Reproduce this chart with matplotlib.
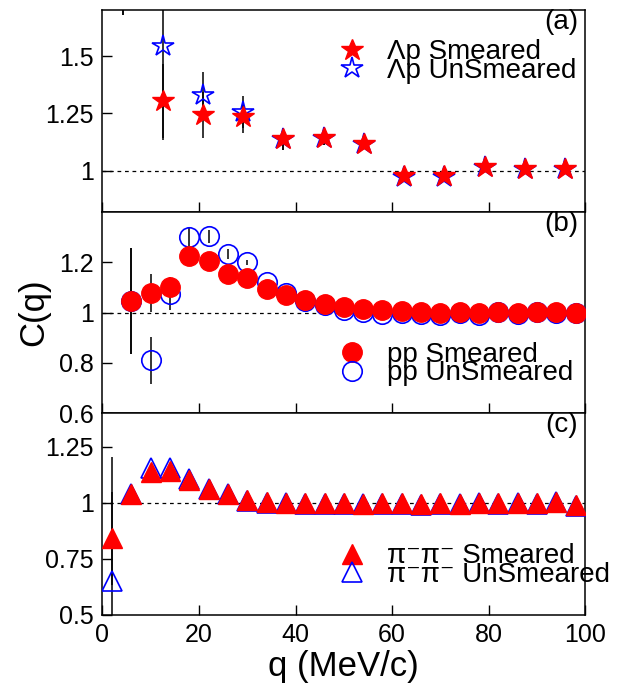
import matplotlib
matplotlib.use("Agg")
import matplotlib.pyplot as plt

plt.rcParams['font.family'] = ['Liberation Sans', 'DejaVu Sans']

# Panel (a): Lambda-p
q_lp = [4.17, 12.5, 20.8, 29.2, 37.5, 45.8, 54.2, 62.5, 70.8, 79.2, 87.5, 95.8]
lp_smeared = [2.0, 1.304, 1.242, 1.232, 1.138, 1.143, 1.116, 0.976, 0.975, 1.016, 1.006, 1.005]
lp_smeared_err = [0.32, 0.16, 0.10, 0.07, 0.05, 0.03, 0.02, 0.01, 0.01, 0.01, 0.01, 0.01]
lp_unsmeared = [2.0, 1.545, 1.329, 1.254, 1.138, 1.143, 1.116, 0.973, 0.970, 1.016, 1.006, 1.005]
lp_unsmeared_err = [0.32, 0.41, 0.10, 0.07, 0.05, 0.03, 0.02, 0.01, 0.01, 0.01, 0.01, 0.01]

# Panel (b): p-p
q_pp = [6, 10, 14, 18, 22, 26, 30, 34, 38, 42, 46, 50, 54, 58, 62, 66, 70, 74, 78, 82, 86, 90, 94, 98]
pp_smeared = [1.046, 1.078, 1.102, 1.226, 1.203, 1.153, 1.137, 1.092, 1.068, 1.05, 1.033, 1.024,
              1.013, 1.01, 1.007, 1.003, 1.0, 1.003, 1.0, 1.003, 1.0, 1.003, 1.003, 1.0]
pp_smeared_err = [0.21, 0.075, 0.04, 0.03, 0.02, 0.015, 0.01, 0.01, 0.005, 0.005, 0.005, 0.005,
                  0.005, 0.005, 0.005, 0.005, 0.005, 0.005, 0.005, 0.005, 0.005, 0.005, 0.005, 0.005]
pp_unsmeared = [1.046, 0.810, 1.072, 1.30, 1.303, 1.231, 1.199, 1.12, 1.076, 1.046, 1.03, 1.009,
                1.003, 0.993, 0.997, 0.993, 0.99, 1.0, 0.991, 1.003, 0.996, 1.003, 1.0, 1.0]
pp_unsmeared_err = [0.21, 0.095, 0.06, 0.04, 0.025, 0.02, 0.01, 0.01, 0.005, 0.005, 0.005, 0.005,
                    0.005, 0.005, 0.005, 0.005, 0.005, 0.005, 0.005, 0.005, 0.005, 0.005, 0.005, 0.005]

# Panel (c): pi- pi-
q_pi = [2, 6, 10, 14, 18, 22, 26, 30, 34, 38, 42, 46, 50, 54, 58, 62, 66, 70, 74, 78, 82, 86, 90, 94, 98]
pi_smeared = [0.842, 1.039, 1.138, 1.143, 1.103, 1.064, 1.04, 1.015, 1.004, 1.001, 1.0, 0.998, 0.998,
              0.997, 0.999, 0.998, 0.995, 0.999, 0.996, 1.0, 0.998, 1.0, 0.999, 1.003, 0.993]
pi_smeared_err = [0.207, 0.02, 0.01, 0.01, 0.005, 0.005, 0.005, 0.005, 0.005, 0.005, 0.005, 0.005, 0.005,
                  0.005, 0.005, 0.005, 0.005, 0.005, 0.005, 0.005, 0.005, 0.005, 0.005, 0.005, 0.005]
pi_unsmeared = [0.650, 1.039, 1.158, 1.158, 1.105, 1.064, 1.04, 1.01, 1.0, 0.998, 0.997, 0.996, 0.996,
                0.995, 0.997, 0.996, 0.993, 0.997, 0.994, 0.998, 0.996, 0.998, 0.997, 1.005, 0.985]
pi_unsmeared_err = [0.555, 0.02, 0.01, 0.01, 0.005, 0.005, 0.005, 0.005, 0.005, 0.005, 0.005, 0.005, 0.005,
                    0.005, 0.005, 0.005, 0.005, 0.005, 0.005, 0.005, 0.005, 0.005, 0.005, 0.005, 0.005]

fig = plt.figure(figsize=(6.28, 6.84), dpi=100)
gs = fig.add_gridspec(3, 1, left=0.163, right=0.932, top=0.985, bottom=0.101, hspace=0)
axes = [fig.add_subplot(gs[i]) for i in range(3)]

panels = [
    (q_lp, lp_smeared, lp_smeared_err, lp_unsmeared, lp_unsmeared_err, '*', 16.5, 16,
     'Λp Smeared', 'Λp UnSmeared', (0.82, 1.7), [1, 1.25, 1.5], ['1', '1.25', '1.5'], '(a)', 0.745),
    (q_pp, pp_smeared, pp_smeared_err, pp_unsmeared, pp_unsmeared_err, 'o', 14, 14,
     'pp Smeared', 'pp UnSmeared', (0.6, 1.4), [0.6, 0.8, 1, 1.2], ['0.6', '0.8', '1', '1.2'], '(b)', 0.245),
    (q_pi, pi_smeared, pi_smeared_err, pi_unsmeared, pi_unsmeared_err, '^', 14, 14,
     'π⁻π⁻ Smeared', 'π⁻π⁻ UnSmeared', (0.5, 1.4), [0.5, 0.75, 1, 1.25], ['0.5', '0.75', '1', '1.25'], '(c)', 0.245),
]

for ax, (q, sm, sm_err, un, un_err, mk, ms_fill, ms_open, lab_s, lab_u, ylim, yt, ytl, tag, ly) in zip(axes, panels):
    ax.axhline(1.0, color='black', linestyle=(0, (3, 3)), linewidth=0.9, zorder=1)
    ax.errorbar(q, un, yerr=un_err, fmt='none', ecolor='black', elinewidth=1.1, capsize=0, zorder=2)
    ax.errorbar(q, sm, yerr=sm_err, fmt='none', ecolor='black', elinewidth=1.1, capsize=0, zorder=2)
    ax.plot(q, un, linestyle='none', marker=mk, markersize=ms_open, markerfacecolor='none',
            markeredgecolor='blue', markeredgewidth=1.2, label=lab_u, zorder=3)
    ax.plot(q, sm, linestyle='none', marker=mk, markersize=ms_fill, color='red',
            markeredgecolor='red', label=lab_s, zorder=4)
    ax.set_xlim(0, 100)
    ax.set_ylim(*ylim)
    ax.set_yticks(yt)
    ax.set_yticklabels(ytl)
    ax.set_xticks([0, 20, 40, 60, 80, 100])
    ax.tick_params(direction='in', length=7, width=1, labelsize=18, pad=6)
    for sp in ax.spines.values():
        sp.set_linewidth(1.1)
    ax.text(0.985, 1.005, tag, transform=ax.transAxes, ha='right', va='top', fontsize=20)
    h, l = ax.get_legend_handles_labels()
    ax.legend(h[::-1], l[::-1], loc='center left', bbox_to_anchor=(0.489, ly), frameon=False,
              fontsize=20, handlelength=1.0, handletextpad=0.75, labelspacing=-0.27,
              borderpad=0, borderaxespad=0)

for ax in axes[:2]:
    ax.tick_params(labelbottom=False)

axes[2].set_xlabel('q (MeV/c)', fontsize=25, labelpad=2)
fig.text(0.053, 0.543, 'C(q)', rotation=90, ha='center', va='center', fontsize=25)

fig.savefig('out.png', dpi=100)
